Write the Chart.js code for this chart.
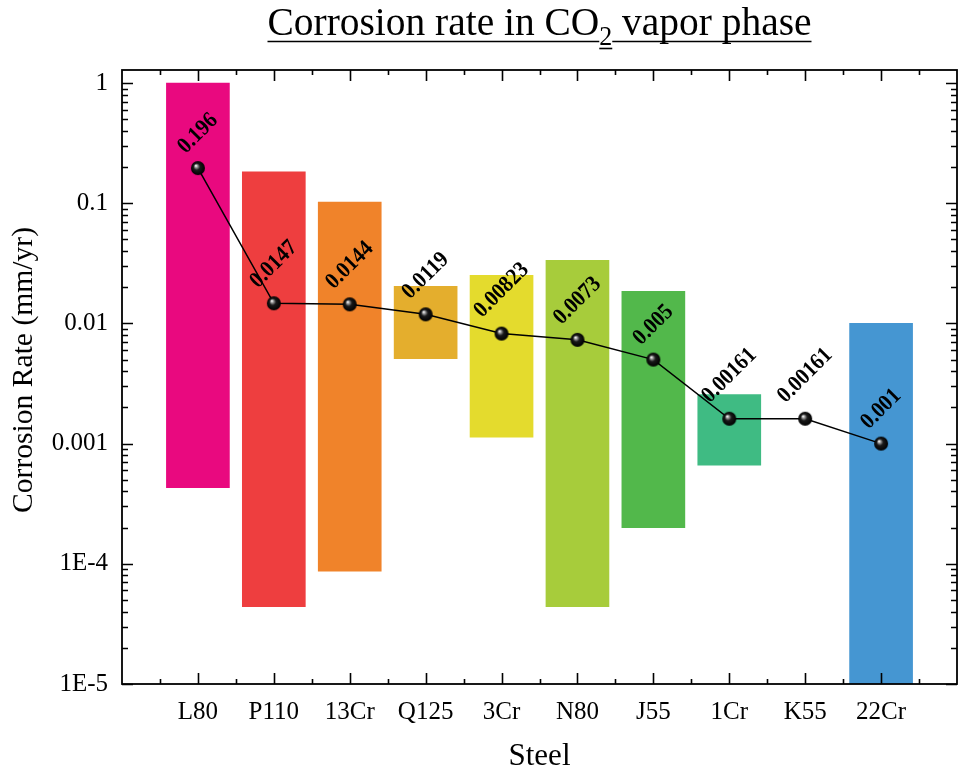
<!DOCTYPE html>
<html>
<head>
<meta charset="utf-8">
<script src="https://cdn.jsdelivr.net/npm/chart.js@4/dist/chart.umd.min.js"></script>
<style>
  html, body { margin: 0; padding: 0; background: #ffffff; }
  #wrap { width: 958px; height: 775px; }
</style>
</head>
<body>
<div id="wrap"><canvas id="c" width="958" height="775"></canvas></div>
<script>
// ---- data ----
const categories = ['L80', 'P110', '13Cr', 'Q125', '3Cr', 'N80', 'J55', '1Cr', 'K55', '22Cr'];
const rangeLow  = [4.3e-4, 4.4e-5, 8.7e-5, 0.0051, 0.00113, 4.4e-5, 2.0e-4, 6.6e-4, null, 1e-6];
const rangeHigh = [1.0,    0.182,  0.102,  0.0203, 0.0251,  0.0335, 0.0185, 0.00256, null, 0.0100];
const meanRate  = [0.196, 0.0147, 0.0144, 0.0119, 0.00823, 0.0073, 0.005, 0.00161, 0.00161, 0.001];
const rateLabels = ['0.196', '0.0147', '0.0144', '0.0119', '0.00823', '0.0073', '0.005', '0.00161', '0.00161', '0.001'];
const barColors = ['#E9097F', '#EE3E3F', '#F0832A', '#E4AE2D', '#E4DB2D', '#A7CC3B', '#52B84B', '#3FBB83', '#3FA3A0', '#4596D2'];
const yTickValues = [1, 0.1, 0.01, 0.001, 1e-4, 1e-5];
const yTickLabels = ['1', '0.1', '0.01', '0.001', '1E-4', '1E-5'];

const SERIF = '"Liberation Serif", "Times New Roman", Times, serif';

// sphere marker
function makeSphere(r) {
  const s = 2 * r + 2;
  const c = document.createElement('canvas');
  c.width = s; c.height = s;
  const g = c.getContext('2d');
  const cx = r + 1, cy = r + 1;
  const grad = g.createRadialGradient(cx - r * 0.3, cy - r * 0.35, 0.3, cx, cy, r);
  grad.addColorStop(0, '#ffffff');
  grad.addColorStop(0.18, '#9a9a9a');
  grad.addColorStop(0.45, '#1a1a1a');
  grad.addColorStop(1, '#000000');
  g.fillStyle = grad;
  g.beginPath(); g.arc(cx, cy, r, 0, Math.PI * 2); g.fill();
  return c;
}
const sphere = makeSphere(7);

const barData = categories.map((c, i) => ({ x: i + 1, y: rangeLow[i] == null ? null : [rangeLow[i], rangeHigh[i]] }));
const lineData = categories.map((c, i) => ({ x: i + 1, y: meanRate[i] }));

// custom plugin: title, axis titles, frame, inward ticks, value labels
const decor = {
  id: 'decor',
  afterDatasetsDraw(chart) {
    const ctx = chart.ctx;
    // value labels
    const meta = chart.getDatasetMeta(0);
    ctx.save();
    ctx.fillStyle = '#000';
    ctx.font = 'bold 23px ' + SERIF;
    ctx.textAlign = 'center';
    ctx.textBaseline = 'middle';
    meta.data.forEach((pt, i) => {
      const txt = rateLabels[i];
      const w = ctx.measureText(txt).width * 0.9;
      const d = 15 + 0.42 * w;
      ctx.save();
      ctx.translate(pt.x, pt.y - d);
      ctx.rotate(-Math.PI / 4);
      ctx.scale(0.9, 1);
      ctx.fillText(txt, 0, 0);
      ctx.restore();
    });
    ctx.restore();
  },
  afterDraw(chart) {
    const ctx = chart.ctx;
    const a = chart.chartArea;
    const xs = chart.scales.x, ys = chart.scales.y;
    ctx.save();
    ctx.strokeStyle = '#000';
    ctx.lineWidth = 1.6;
    // ticks x (bottom and top)
    for (let v = 0.5; v <= 10.5; v += 0.5) {
      const px = Math.round(xs.getPixelForValue(v)) + 0.5;
      const len = Number.isInteger(v) ? 11 : 5;
      ctx.beginPath();
      ctx.moveTo(px, a.bottom); ctx.lineTo(px, a.bottom - len);
      ctx.moveTo(px, a.top); ctx.lineTo(px, a.top + len);
      ctx.stroke();
    }
    // ticks y (left and right)
    for (let d = -5; d <= 0; d++) {
      for (let m = 1; m <= 9; m++) {
        const v = m * Math.pow(10, d);
        if (v > ys.max || v < ys.min) continue;
        const py = Math.round(ys.getPixelForValue(v)) + 0.5;
        const len = m === 1 ? 11 : 6;
        ctx.beginPath();
        ctx.moveTo(a.left, py); ctx.lineTo(a.left + len, py);
        ctx.moveTo(a.right, py); ctx.lineTo(a.right - len, py);
        ctx.stroke();
      }
    }
    // frame
    ctx.lineWidth = 1.8;
    ctx.strokeRect(a.left, a.top, a.right - a.left, a.bottom - a.top);
    ctx.restore();

    // title with subscript and underline
    ctx.save();
    ctx.fillStyle = '#000';
    ctx.strokeStyle = '#000';
    ctx.textBaseline = 'alphabetic';
    ctx.textAlign = 'left';
    const mainFont = '41px ' + SERIF;
    const subFont = '27px ' + SERIF;
    const parts = [
      { t: 'Corrosion rate in CO', f: mainFont, dy: 0, ul: 41 },
      { t: '2', f: subFont, dy: 10, ul: 48 },
      { t: ' vapor phase', f: mainFont, dy: 0, ul: 41 }
    ];
    let total = 0;
    parts.forEach(p => { ctx.font = p.f; p.w = ctx.measureText(p.t).width; total += p.w; });
    const targetW = 544;
    const sx = targetW / total;
    const cx = (a.left + a.right) / 2;
    ctx.translate(cx - targetW / 2, 0);
    ctx.scale(sx, 1);
    let x = 0;
    const base = 35;
    ctx.lineWidth = 1.6;
    parts.forEach(p => {
      ctx.font = p.f;
      ctx.fillText(p.t, x, base + p.dy);
      ctx.beginPath();
      ctx.moveTo(x, p.ul + 0.5); ctx.lineTo(x + p.w, p.ul + 0.5);
      ctx.stroke();
      x += p.w;
    });
    ctx.restore();

    // axis titles
    ctx.save();
    ctx.fillStyle = '#000';
    ctx.textAlign = 'center';
    ctx.textBaseline = 'middle';
    ctx.font = '31px ' + SERIF;
    ctx.fillText('Steel', (a.left + a.right) / 2, 757);
    ctx.translate(24, 370);
    ctx.rotate(-Math.PI / 2);
    ctx.font = '30px ' + SERIF;
    const yt = 'Corrosion Rate (mm/yr)';
    const yw = ctx.measureText(yt).width;
    ctx.scale(286 / yw, 1);
    ctx.fillText(yt, 0, 0);
    ctx.restore();
  }
};

new Chart(document.getElementById('c'), {
  data: {
    datasets: [
      {
        type: 'line',
        data: lineData,
        borderColor: '#000',
        borderWidth: 1.5,
        tension: 0,
        pointStyle: sphere,
        pointRadius: 7,
        order: 0
      },
      {
        type: 'bar',
        data: barData,
        backgroundColor: barColors,
        borderWidth: 0,
        barThickness: 63,
        order: 1
      }
    ]
  },
  options: {
    responsive: false,
    animation: false,
    devicePixelRatio: 1,
    layout: { autoPadding: false, padding: { top: 70, right: 1, left: 0, bottom: 0 } },
    plugins: { legend: { display: false }, tooltip: { enabled: false }, title: { display: false } },
    scales: {
      x: {
        type: 'linear',
        min: 0, max: 11,
        offset: false,
        grid: { display: false, drawTicks: false, offset: false },
        border: { display: false },
        afterBuildTicks: (s) => { s.ticks = categories.map((c, i) => ({ value: i + 1 })); },
        afterFit: (s) => { s.height = 91; s.paddingLeft = 0; s.paddingRight = 0; },
        ticks: {
          autoSkip: false,
          maxRotation: 0,
          padding: 13,
          color: '#000',
          font: { family: SERIF, size: 25 },
          callback: (v) => categories[Math.round(v) - 1] || ''
        }
      },
      y: {
        type: 'logarithmic',
        min: 1e-5, max: 1.283,
        grid: { display: false, drawTicks: false },
        border: { display: false },
        afterBuildTicks: (s) => { s.ticks = yTickValues.map(v => ({ value: v })); },
        afterFit: (s) => { s.width = 122; s.paddingTop = 0; s.paddingBottom = 0; },
        ticks: {
          autoSkip: false,
          padding: 14,
          color: '#000',
          font: { family: SERIF, size: 25 },
          callback: (v, i) => yTickLabels[i]
        }
      }
    }
  },
  plugins: [decor]
});
</script>
</body>
</html>
